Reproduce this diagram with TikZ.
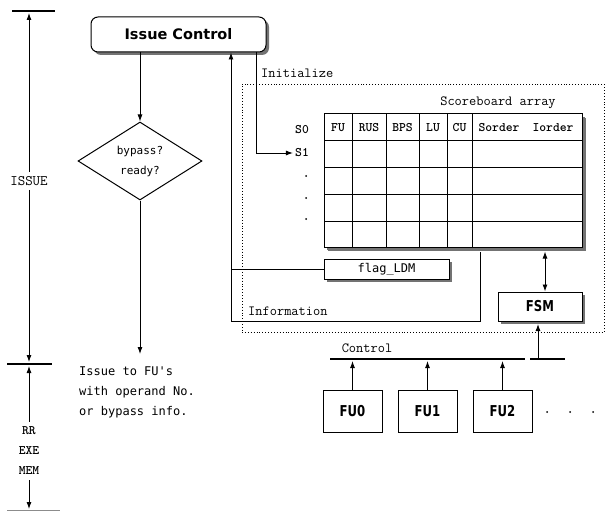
\documentclass[tikz,border=0pt]{standalone}
\usepackage{fontspec}
\usetikzlibrary{arrows.meta,shapes.geometric,shadows}
\newfontfamily\gulim{DejaVu Sans Mono}
\newfontfamily\headsans{DejaVu Sans}
\newfontfamily\narrowsans{DejaVu Sans}[FakeStretch=0.78]

\tikzset{
  arr/.style={-{Latex[length=7pt,width=5pt]}, line width=0.9pt},
  darr/.style={{Latex[length=7pt,width=5pt]}-{Latex[length=7pt,width=5pt]}, line width=0.9pt},
  bar/.style={line width=2.4pt},
  shd/.style={drop shadow={shadow xshift=3pt,shadow yshift=-3pt,fill=black!55,opacity=1}},
  box/.style={draw, line width=1pt, fill=white, inner sep=0pt},
  ttlbl/.style={font=\fontsize{14}{16}\selectfont\ttfamily, inner sep=0pt},
  hdr/.style={font=\fontsize{13}{15}\selectfont\ttfamily\bfseries, inner sep=0pt},
  stage/.style={font=\fontsize{13}{15}\selectfont\ttfamily\bfseries, inner sep=2pt},
  fubox/.style={box, minimum width=59pt, minimum height=42pt,
    font=\fontsize{15}{17}\selectfont\narrowsans\bfseries},
  grid/.style={line width=0.9pt},
  dot/.style={fill=black}
}

\begin{document}
\begin{tikzpicture}[x=1pt,y=-1pt]
\useasboundingbox (0,0) rectangle (607,513);

% ---- pipeline stage axis on the left ----
\coordinate (topbarL) at (12,11);
\coordinate (topbarR) at (55,11);
\coordinate (midbarL) at (7,364);
\coordinate (midbarR) at (52,364);
\coordinate (botbarL) at (7,510);
\coordinate (botbarR) at (60,510);
\draw[bar] (topbarL) -- (topbarR);
\draw[bar] (midbarL) -- (midbarR);
\draw[black!45, line width=1pt] (botbarL) -- (botbarR);

\node[font=\fontsize{14.5}{16}\selectfont\ttfamily, inner sep=4pt] (issue) at (29,181) {ISSUE};
\coordinate (topin) at (29,13);
\coordinate (midin) at (29,362);
\coordinate (midout) at (29,366);
\coordinate (botin) at (29,509);
\draw[arr] (issue.north) -- (topin);
\draw[arr] (issue.south) -- (midin);

\node[stage] (rr) at (29,431) {RR};
\node[stage] (exe) at (29,451) {EXE};
\node[stage] (mem) at (29,471) {MEM};
\draw[arr] ([yshift=3pt]rr.north) -- (midout);
\draw[arr] ([yshift=-3pt]mem.south) -- (botin);

% ---- issue control and decision ----
\node[box, rounded corners=7pt, shd, minimum width=175pt, minimum height=35pt,
      font=\fontsize{14.5}{16}\selectfont\headsans\bfseries] (ic) at (178.5,34.5) {Issue Control};

\node[diamond, draw, line width=1pt, minimum width=124pt, minimum height=78pt,
      inner sep=0pt, align=center, font=\fontsize{11}{20}\selectfont\gulim] (dec) at (140,161)
      {bypass?\\ready?};
\draw[arr] (ic.south -| dec.north) -- (dec.north);
\coordinate (decout) at (140,354);
\draw[arr] (dec.south) -- (decout);

\node[anchor=west, align=left, inner sep=0pt, font=\fontsize{12}{20}\selectfont\gulim] (issuetxt) at (79,392)
      {Issue to FU's\\with operand No.\\or bypass info.};

% ---- scoreboard unit (dotted) ----
\node[draw, dotted, line width=0.9pt, minimum width=362pt, minimum height=248pt, inner sep=0pt] (unit) at (423,208) {};

\node[ttlbl] (sbtitle) at (498,103) {Scoreboard array};

\node[box, shd, drop shadow={shadow xshift=4pt,shadow yshift=-4pt,fill=black!55,opacity=1},
      minimum width=258pt, minimum height=133pt] (sb) at (453,180.5) {};
% column and row rules of the array
\foreach \cx in {352,386,419,447,472}
  \draw[grid] (\cx,114) -- (\cx,247);
\foreach \ry in {140,167,194,221}
  \draw[grid] (324,\ry) -- (582,\ry);

\node[hdr] (hFU) at (338,127.5) {FU};
\node[hdr] (hRUS) at (369,127.5) {RUS};
\node[hdr] (hBPS) at (402.5,127.5) {BPS};
\node[hdr] (hLU) at (433,127.5) {LU};
\node[hdr] (hCU) at (459.5,127.5) {CU};
\node[hdr] (hSo) at (499,127.5) {Sorder};
\node[hdr] (hIo) at (553,127.5) {Iorder};

\node[hdr, inner sep=2pt] (s0) at (302,130) {S0};
\node[hdr, inner sep=2pt] (s1) at (302,153) {S1};
\fill[dot] (306,176) circle (1pt);
\fill[dot] (306,198) circle (1pt);
\fill[dot] (306,219) circle (1pt);

% initialize path
\coordinate (initx) at (256,0);
\node[ttlbl, anchor=west] (initlbl) at (261,73) {Initialize};
\draw[arr] (ic.south -| initx) |- (s1.west);

% flag register and information path
\node[box, shd, minimum width=125pt, minimum height=20pt,
      font=\fontsize{12}{14}\selectfont\gulim] (flag) at (386.5,269) {flag\_LDM};
\coordinate (sbout) at (480,252);
\coordinate (infoL) at (231,321);
\draw[line width=0.9pt] (sbout) -- (sbout |- infoL) -- (infoL);
\draw[arr] (infoL) -- (infoL |- ic.south);
\draw[line width=0.9pt] (flag.west) -- (flag.west -| infoL);
\node[ttlbl, anchor=west] (infolbl) at (248,311) {Information};

% FSM
\node[box, shd, minimum width=84pt, minimum height=29pt,
      font=\fontsize{15}{17}\selectfont\narrowsans\bfseries] (fsm) at (540,306.5) {FSM};
\coordinate (dax) at (545,0);
\draw[darr] ([yshift=-4pt]sb.south -| dax) -- (fsm.north -| dax);

% control bus and functional units
\coordinate (busA) at (330,359);
\coordinate (busB) at (525,359);
\coordinate (busC) at (530,359);
\coordinate (busD) at (565,359);
\draw[bar] (busA) -- (busB);
\draw[bar] (busC) -- (busD);
\node[ttlbl] (ctrllbl) at (367,348) {Control};

\coordinate (fsmfeed) at (538,358);
\coordinate (fsmin) at (538,324);
\draw[arr] (fsmfeed) -- (fsmin);

\coordinate (busin) at (0,361);
\node[fubox] (fu0) at (352.5,411) {FU0};
\node[fubox] (fu1) at (427.5,411) {FU1};
\node[fubox] (fu2) at (502.5,411) {FU2};
\foreach \f in {fu0,fu1,fu2}
  \draw[arr] (\f.north) -- (\f.north |- busin);

\fill[dot] (547,412) circle (1pt);
\fill[dot] (570,412) circle (1pt);
\fill[dot] (593,412) circle (1pt);
\end{tikzpicture}
\end{document}
